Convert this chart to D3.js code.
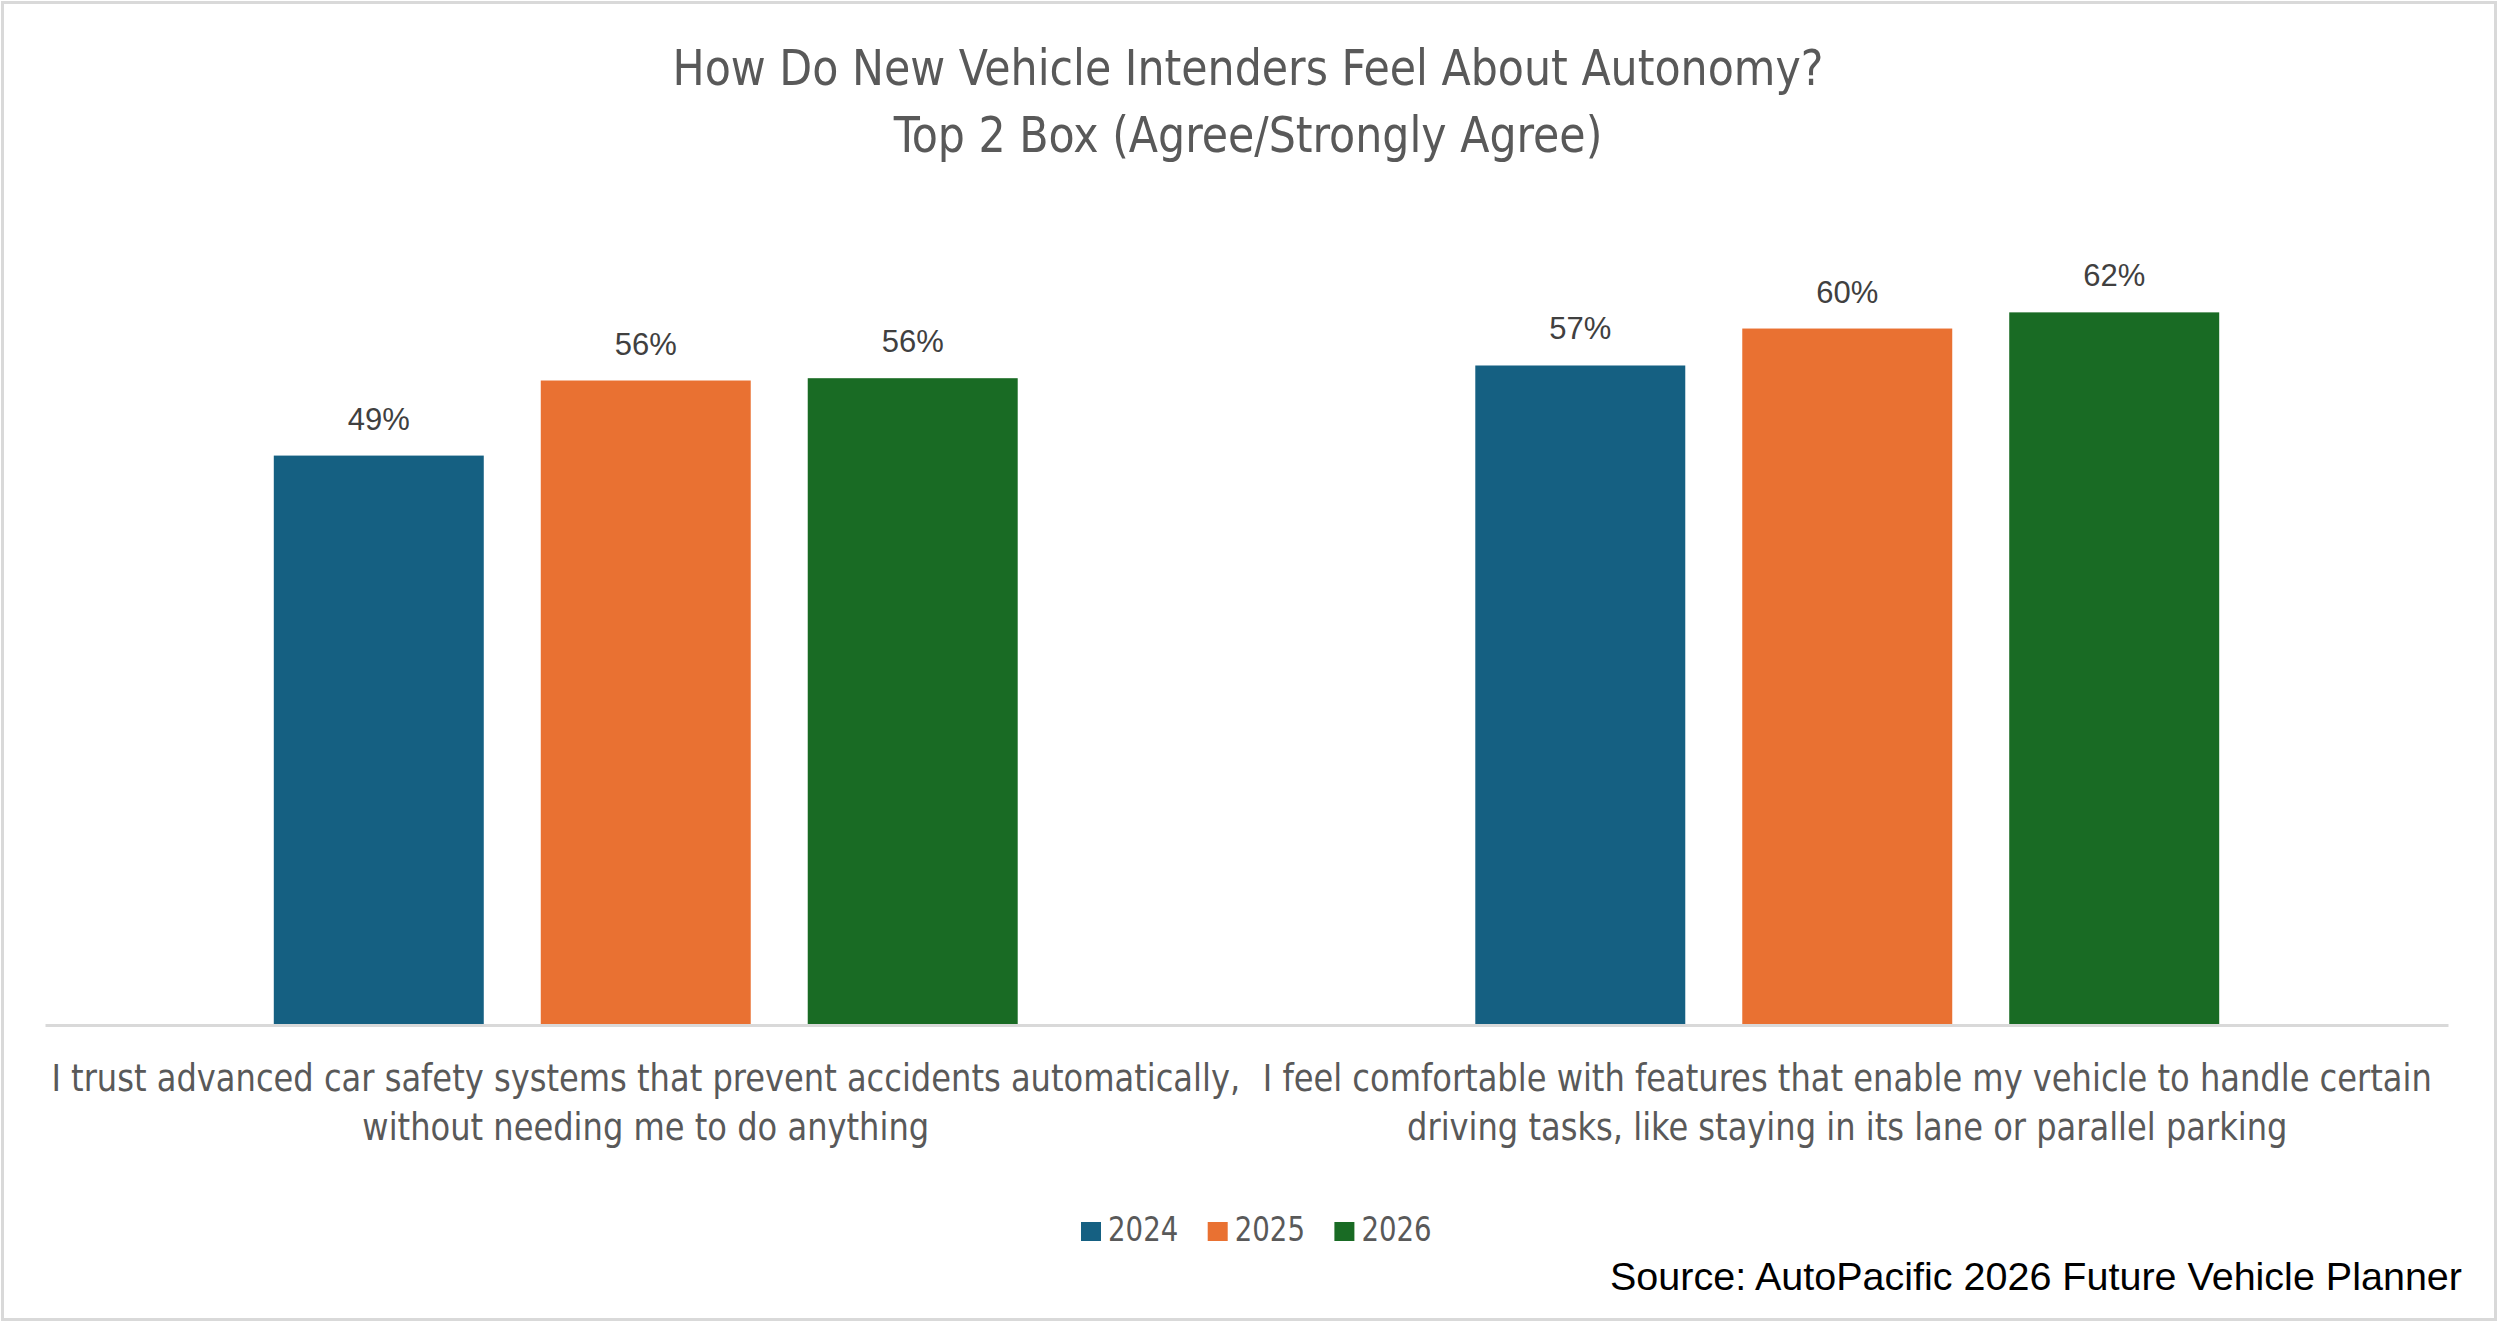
<!DOCTYPE html>
<html>
<head>
<meta charset="utf-8">
<script src="https://cdn.jsdelivr.net/npm/d3@7"></script>
<style>
  body { margin: 0; background: #fff; }
  .narrow { font-family: "Liberation Sans Narrow", "DejaVu Sans Condensed", "Roboto Condensed", sans-serif; }
</style>
</head>
<body>
<div id="chart"></div>
<script>
// chart data
const titleLines = ["How Do New Vehicle Intenders Feel About Autonomy?", "Top 2 Box (Agree/Strongly Agree)"];
const categories = [
  "I trust advanced car safety systems that prevent accidents automatically,\nwithout needing me to do anything",
  "I feel comfortable with features that enable my vehicle to handle certain\ndriving tasks, like staying in its lane or parallel parking"
];
const years = ["2024", "2025", "2026"];
const values2024 = [0.493, 0.571];
const values2025 = [0.558, 0.603];
const values2026 = [0.560, 0.617];
const sourceText = "Source: AutoPacific 2026 Future Vehicle Planner";

const colors = { "2024": "#156082", "2025": "#E97132", "2026": "#196B24" };
const seriesByYear = { "2024": values2024, "2025": values2025, "2026": values2026 };

const W = 2500, H = 1324;
const svg = d3.select("#chart").append("svg")
  .attr("width", W).attr("height", H);

// squeeze text a little so the condensed fallback font reads like the narrow original
function condense(sel, k) {
  sel.each(function () {
    const w = this.getComputedTextLength();
    d3.select(this).attr("textLength", w * k).attr("lengthAdjust", "spacingAndGlyphs");
  });
}

svg.append("rect")
  .attr("x", 2.5).attr("y", 2.5)
  .attr("width", W - 7).attr("height", H - 7)
  .attr("fill", "#fff").attr("stroke", "#d9d9d9").attr("stroke-width", 3);

// title
svg.append("g").selectAll("text").data(titleLines).join("text")
  .attr("class", "narrow")
  .attr("text-anchor", "middle")
  .attr("fill", "#595959")
  .style("font-size", "50px")
  .attr("x", 1248)
  .attr("y", (d, i) => 85 + i * 67)
  .text(d => d)
  .call(condense, 0.95);

// scales
const plot = { left: 45, right: 2448, bottom: 1025, top: 216.5 };
const x0 = d3.scaleBand().domain(categories).range([plot.left, plot.right]).padding(0);
const x1 = d3.scaleBand().domain(years).range([0, x0.bandwidth()])
  .paddingInner(0.2135).paddingOuter(0.857);
const y = d3.scaleLinear().domain([0, 0.7]).range([plot.bottom, plot.top]);

// bars
const groups = svg.append("g").selectAll("g").data(categories).join("g")
  .attr("transform", d => `translate(${x0(d)},0)`);

groups.selectAll("rect")
  .data((d, i) => years.map(yr => ({ year: yr, value: seriesByYear[yr][i] })))
  .join("rect")
  .attr("x", d => x1(d.year))
  .attr("width", x1.bandwidth())
  .attr("y", d => y(d.value))
  .attr("height", d => y(0) - y(d.value))
  .attr("fill", d => colors[d.year]);

groups.selectAll("text.lbl")
  .data((d, i) => years.map(yr => ({ year: yr, value: seriesByYear[yr][i] })))
  .join("text")
  .attr("class", "lbl")
  .attr("x", d => x1(d.year) + x1.bandwidth() / 2)
  .attr("y", d => y(d.value) - 26)
  .attr("text-anchor", "middle")
  .attr("fill", "#404040")
  .style("font-family", "'Liberation Sans', Arial, sans-serif")
  .style("font-size", "31px")
  .text(d => d3.format(".0%")(d.value));

// x axis
const xAxis = svg.append("g")
  .attr("transform", `translate(0,${plot.bottom})`)
  .call(d3.axisBottom(x0).tickSize(0).tickPadding(0));

xAxis.select(".domain").attr("stroke", "#d9d9d9").attr("stroke-width", 3);

xAxis.selectAll(".tick").each(function (d) {
  const tick = d3.select(this);
  tick.select("text").remove();
  tick.selectAll("text.cat").data(d.split("\n")).join("text")
    .attr("class", "narrow cat")
    .attr("text-anchor", "middle")
    .attr("fill", "#595959")
    .style("font-size", "37px")
    .attr("x", 0)
    .attr("y", (line, i) => 66 + i * 49)
    .text(line => line)
    .call(condense, 0.965);
});

// legend
const legend = svg.append("g").attr("transform", "translate(1081,1222)");
const items = legend.selectAll("g").data(years).join("g")
  .attr("transform", (d, i) => `translate(${i * 126.7},0)`);
items.append("rect")
  .attr("width", 20).attr("height", 19)
  .attr("fill", d => colors[d]);
items.append("text")
  .attr("class", "narrow")
  .attr("x", 27).attr("y", 19)
  .attr("fill", "#595959")
  .style("font-size", "33px")
  .text(d => d)
  .call(condense, 0.93);

// source note
svg.append("text")
  .attr("x", 2462).attr("y", 1290)
  .attr("text-anchor", "end")
  .attr("fill", "#000")
  .style("font-family", "'Liberation Sans', Arial, sans-serif")
  .style("font-size", "39.5px")
  .text(sourceText);
</script>
</body>
</html>
